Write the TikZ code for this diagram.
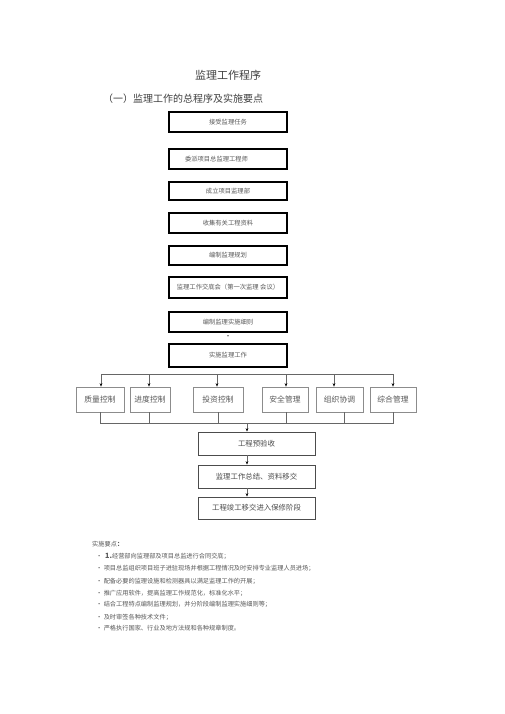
\documentclass[tikz,border=0pt]{standalone}
\usepackage{fontspec}
\setmainfont{Noto Sans CJK SC}
\usetikzlibrary{arrows.meta}
\begin{document}
\begin{tikzpicture}[x=1pt,y=-1pt,
  topbox/.style={draw=black, line width=1.1pt, minimum width=118pt, inner sep=0pt, font=\fontsize{6.3}{7}\selectfont, text=black!65},
  rowbox/.style={draw=black!45, line width=0.6pt, minimum height=25pt, inner sep=0pt, font=\fontsize{7.8}{9}\selectfont, text=black!65},
  lowbox/.style={draw=black!70, line width=0.8pt, minimum width=117pt, inner sep=0pt, font=\fontsize{7.4}{9}\selectfont, text=black!70},
  conn/.style={draw=black!60, line width=0.6pt},
  arr/.style={conn, -{Stealth[length=3.5pt,width=2.6pt,color=black]}},
  note/.style={anchor=west, inner sep=0pt, font=\fontsize{6.2}{7}\selectfont, text=black!65}]
\useasboundingbox (0,0) rectangle (505,714);
\fill[white] (0,0) rectangle (505,714);

\node[inner sep=0pt, font=\fontsize{11}{13}\selectfont, text=black!75] (title) at (228,75) {监理工作程序};
\node[anchor=west, inner sep=0pt, font=\fontsize{10}{12}\selectfont, text=black!75] (sub) at (103,99) {（一）监理工作的总程序及实施要点};

\node[topbox, minimum height=20pt] (b1) at (228,122) {接受监理任务};
\node[topbox, minimum height=20pt, text width=86pt, inner xsep=16pt, align=left] (b2) at (228,159) {委派项目总监理工程师};
\node[topbox, minimum height=18pt] (b3) at (228,191) {成立项目监理部};
\node[topbox, minimum height=20pt] (b4) at (228,223) {收集有关工程资料};
\node[topbox, minimum height=19pt] (b5) at (228,255.5) {编制监理规划};
\node[topbox, minimum height=21pt] (b6) at (228,287.5) {监理工作交底会（第一次监理\ 会议）};
\node[topbox, minimum height=20pt] (b7) at (228,322) {编制监理实施细则};
\node[inner sep=0pt, font=\fontsize{6}{7}\selectfont] (dot) at (228,337) {·};
\node[topbox, minimum height=23pt] (b8) at (228,355.5) {实施监理工作};

\node[rowbox, minimum width=48pt] (q) at (100,399.5) {质量控制};
\node[rowbox, minimum width=40pt] (j) at (150,399.5) {进度控制};
\node[rowbox, minimum width=50pt] (t) at (218,399.5) {投资控制};
\node[rowbox, minimum width=46pt] (a) at (285,399.5) {安全管理};
\node[rowbox, minimum width=47pt] (o) at (339.5,399.5) {组织协调};
\node[rowbox, minimum width=46pt] (z) at (393,399.5) {综合管理};

\node[lowbox, minimum height=23pt] (p1) at (256.5,443.5) {工程预验收};
\node[lowbox, minimum height=23pt] (p2) at (256.5,476.5) {监理工作总结、资料移交};
\node[lowbox, minimum height=22pt] (p3) at (256.5,508) {工程竣工移交进入保修阶段};

\coordinate (tl) at (0,374);
\coordinate (bl) at (0,423);
\coordinate (ax) at (247,0);

% distribution line
\draw[conn] ([xshift=1pt]q.north |- tl) -- (z.north |- tl);
\draw[arr] ([xshift=1pt]q.north |- tl) -- ([xshift=1pt]q.north);
\draw[arr] ([xshift=-1pt]j.north |- tl) -- ([xshift=-1pt]j.north);
\draw[arr] ([xshift=-1pt]t.north |- tl) -- ([xshift=-1pt]t.north);
\draw[arr] ([xshift=1pt]a.north |- tl) -- ([xshift=1pt]a.north);
\draw[arr] ([xshift=-5.5pt]o.north |- tl) -- ([xshift=-5.5pt]o.north);
\draw[arr] (z.north |- tl) -- (z.north);

% collection line
\draw[conn] (q.south) -- (q.south |- bl) -- (z.south |- bl) -- (z.south);
\draw[conn] ([xshift=-1pt]j.south) -- ([xshift=-1pt]j.south |- bl);
\draw[conn] (t.south) -- (t.south |- bl);
\draw[conn] ([xshift=1pt]a.south) -- ([xshift=1pt]a.south |- bl);
\draw[conn] ([xshift=4.5pt]o.south) -- ([xshift=4.5pt]o.south |- bl);

\draw[arr] (ax |- bl) -- (ax |- p1.north);
\draw[arr] (ax |- p1.south) -- (ax |- p2.north);
\draw[arr] (ax |- p2.south) -- (ax |- p3.north);

% notes
\node[note] (n0) at (92,544) {实施要点\textbf{：}};
\node[note] (n1) at (96,556) {·\ \ {\bfseries\fontsize{7.2}{8}\selectfont 1.}经营部向监理部及项目总监进行合同交底；};
\node[note] (n2) at (96,568.5) {·\ 项目总监组织项目班子进驻现场并根据工程情况及时安排专业监理人员进场；};
\node[note] (n3) at (96,581.5) {·\ 配备必要的监理设施和检测器具以满足监理工作的开展；};
\node[note] (n4) at (96,593.5) {·\ 推广应用软件，提高监理工作规范化，标准化水平；};
\node[note] (n5) at (96,604.5) {·\ 结合工程特点编制监理规划，并分阶段编制监理实施细则等；};
\node[note] (n6) at (96,617) {·\ 及时审签各种技术文件；};
\node[note] (n7) at (96,628.5) {·\ 严格执行国家、行业及地方法规和各种规章制度。};
\end{tikzpicture}
\end{document}
